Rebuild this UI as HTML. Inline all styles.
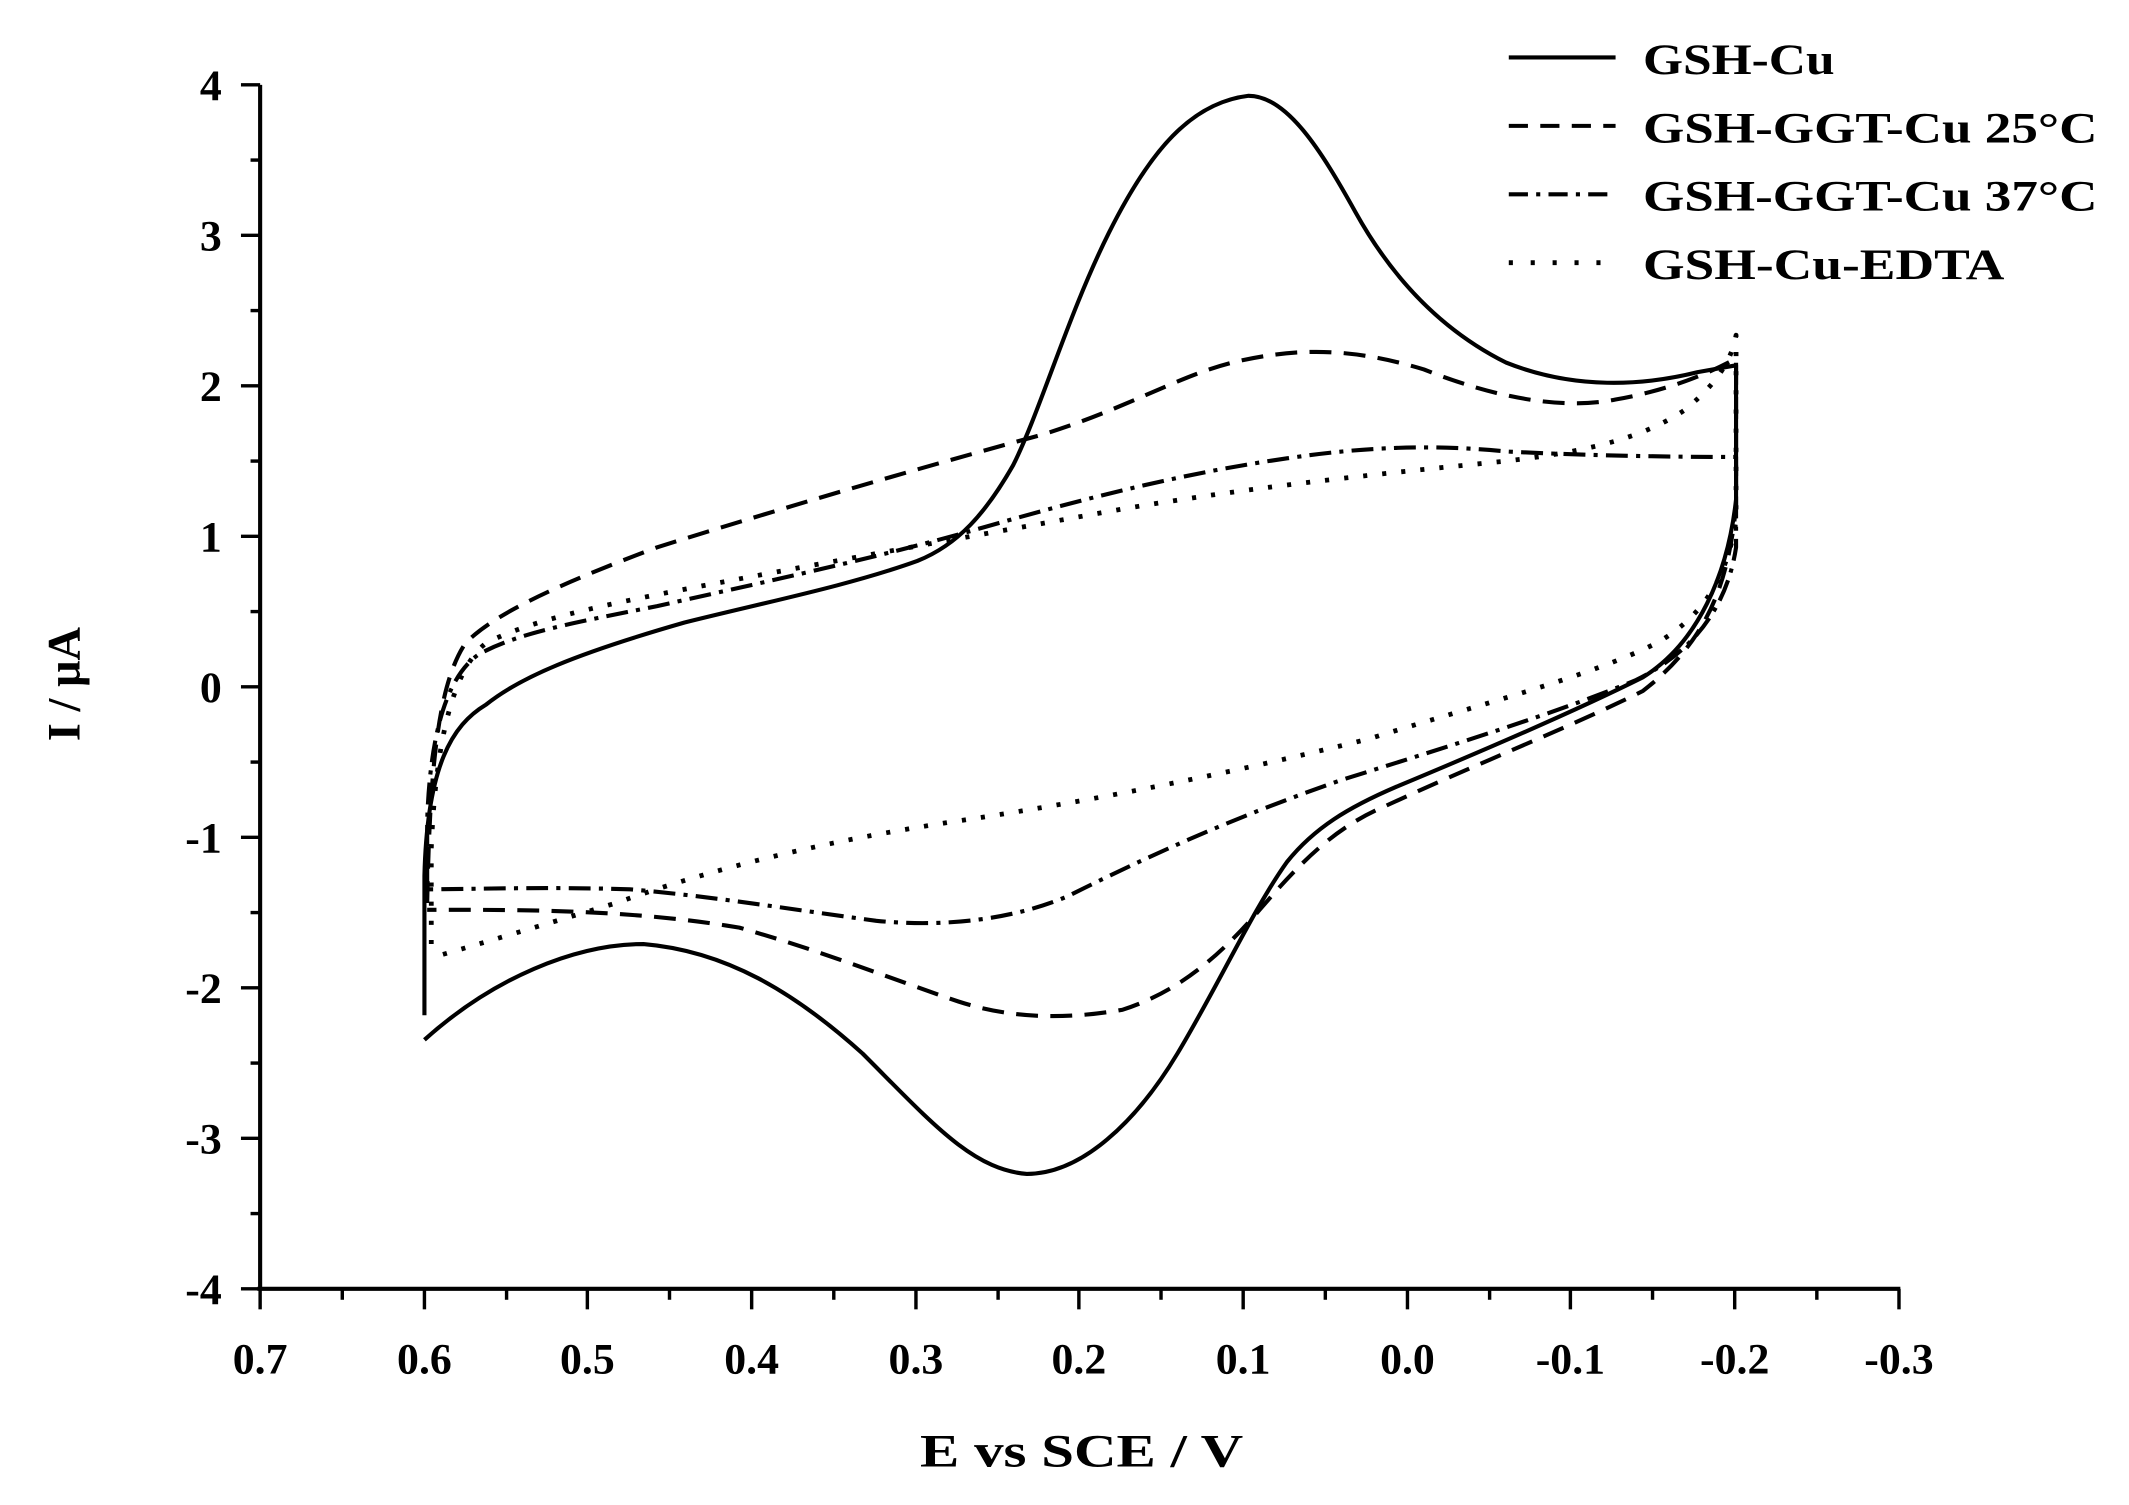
<!DOCTYPE html>
<html><head><meta charset="utf-8"><style>html,body{margin:0;padding:0;background:#fff;}svg{display:block}</style></head>
<body>
<svg width="2129" height="1505" viewBox="0 0 1555 1100" preserveAspectRatio="none" xmlns="http://www.w3.org/2000/svg" font-family="'Liberation Serif', serif" font-weight="bold">
<g stroke="#000" stroke-width="3" fill="none">
<line x1="190" y1="62" x2="190" y2="943"/>
<line x1="188" y1="942" x2="1388" y2="942"/>
<g stroke-width="2.5">
<line x1="176" y1="62" x2="190" y2="62"/><line x1="176" y1="172" x2="190" y2="172"/><line x1="176" y1="282" x2="190" y2="282"/><line x1="176" y1="392" x2="190" y2="392"/><line x1="176" y1="502" x2="190" y2="502"/><line x1="176" y1="612" x2="190" y2="612"/><line x1="176" y1="722" x2="190" y2="722"/><line x1="176" y1="832" x2="190" y2="832"/><line x1="176" y1="942" x2="190" y2="942"/>
<line x1="183" y1="117" x2="190" y2="117"/><line x1="183" y1="227" x2="190" y2="227"/><line x1="183" y1="337" x2="190" y2="337"/><line x1="183" y1="447" x2="190" y2="447"/><line x1="183" y1="557" x2="190" y2="557"/><line x1="183" y1="667" x2="190" y2="667"/><line x1="183" y1="777" x2="190" y2="777"/><line x1="183" y1="887" x2="190" y2="887"/>
<line x1="190" y1="942" x2="190" y2="957"/><line x1="310" y1="942" x2="310" y2="957"/><line x1="429" y1="942" x2="429" y2="957"/><line x1="549" y1="942" x2="549" y2="957"/><line x1="669" y1="942" x2="669" y2="957"/><line x1="788" y1="942" x2="788" y2="957"/><line x1="908" y1="942" x2="908" y2="957"/><line x1="1028" y1="942" x2="1028" y2="957"/><line x1="1147" y1="942" x2="1147" y2="957"/><line x1="1267" y1="942" x2="1267" y2="957"/><line x1="1387" y1="942" x2="1387" y2="957"/>
<line x1="250" y1="942" x2="250" y2="950"/><line x1="370" y1="942" x2="370" y2="950"/><line x1="489" y1="942" x2="489" y2="950"/><line x1="609" y1="942" x2="609" y2="950"/><line x1="729" y1="942" x2="729" y2="950"/><line x1="848" y1="942" x2="848" y2="950"/><line x1="968" y1="942" x2="968" y2="950"/><line x1="1088" y1="942" x2="1088" y2="950"/><line x1="1207" y1="942" x2="1207" y2="950"/><line x1="1327" y1="942" x2="1327" y2="950"/>
</g>
</g>
<g font-size="32" text-anchor="end">
<text x="162" y="73">4</text><text x="162" y="183">3</text><text x="162" y="293">2</text><text x="162" y="403">1</text><text x="162" y="513">0</text><text x="162" y="623">-1</text><text x="162" y="733">-2</text><text x="162" y="843">-3</text><text x="162" y="953">-4</text>
</g>
<g font-size="32" text-anchor="middle">
<text x="190" y="1004">0.7</text><text x="310" y="1004">0.6</text><text x="429" y="1004">0.5</text><text x="549" y="1004">0.4</text><text x="669" y="1004">0.3</text><text x="788" y="1004">0.2</text><text x="908" y="1004">0.1</text><text x="1028" y="1004">0.0</text><text x="1147" y="1004">-0.1</text><text x="1267" y="1004">-0.2</text><text x="1387" y="1004">-0.3</text>
</g>
<text x="672" y="1072" font-size="34" textLength="236" lengthAdjust="spacingAndGlyphs">E vs SCE / V</text>
<text transform="translate(58,500) rotate(-90)" font-size="34" text-anchor="middle">I / μA</text>
<g stroke="#000" stroke-width="3">
<line x1="1102" y1="42" x2="1180" y2="42"/>
<line x1="1102" y1="92" x2="1180" y2="92" stroke-dasharray="14,9"/>
<line x1="1102" y1="142" x2="1180" y2="142" stroke-dasharray="14,6,3,6"/>
<line x1="1102" y1="192" x2="1180" y2="192" stroke-dasharray="3,13" stroke-width="3.5"/>
</g>
<g font-size="32">
<text x="1200" y="54" textLength="140" lengthAdjust="spacingAndGlyphs">GSH-Cu</text>
<text x="1200" y="104" textLength="332" lengthAdjust="spacingAndGlyphs">GSH-GGT-Cu 25°C</text>
<text x="1200" y="154" textLength="332" lengthAdjust="spacingAndGlyphs">GSH-GGT-Cu 37°C</text>
<text x="1200" y="204" textLength="264" lengthAdjust="spacingAndGlyphs">GSH-Cu-EDTA</text>
</g>
<g fill="none" stroke="#000" stroke-width="3" stroke-linejoin="round">
<path d="M310,742 L310,640 C312,560 330,530 355,515 C380,495 420,478 500,455 C560,440 620,428 670,410 C700,398 720,375 740,340 C760,300 780,230 810,170 C840,110 870,75 912,70 C940,70 965,110 990,155 C1015,200 1050,240 1100,265 C1150,285 1200,282 1240,272 L1268,267 L1268,365 C1262,420 1240,470 1200,495 C1150,520 1080,550 1020,575 C985,590 960,605 940,630 C915,665 890,720 860,770 C830,820 790,858 750,858 C710,855 680,820 630,770 C580,725 530,695 470,690 C420,690 360,715 310,760"/>
<path stroke-dasharray="16,9" d="M312,660 C314,560 320,500 340,470 C360,450 400,430 480,400 C560,375 650,348 760,318 C820,300 860,275 900,265 C950,253 990,255 1040,270 C1090,290 1140,300 1180,292 C1220,285 1250,272 1268,262 L1268,370 C1262,430 1245,470 1200,505 C1150,530 1070,562 1010,590 C975,605 950,630 920,665 C890,700 860,725 820,738 C780,745 740,745 700,732 C650,715 600,695 540,678 C480,668 420,665 340,665 L312,665"/>
<path stroke-dasharray="16,6,3,6" d="M312,650 L312,600 C314,540 325,495 350,478 C380,462 420,455 480,443 C560,425 640,408 720,385 C800,362 870,345 940,335 C1000,326 1050,325 1100,330 C1160,333 1220,334 1268,334 L1268,400 C1262,440 1240,475 1195,497 C1140,520 1060,545 980,570 C900,598 840,625 780,655 C740,672 690,678 640,673 C580,665 520,655 460,650 C400,648 340,650 312,650"/>
<path stroke-dasharray="3,11" stroke-width="3.5" d="M315,690 L315,620 C318,545 330,490 355,470 C390,452 450,440 530,425 C620,408 720,390 820,372 C920,355 1020,345 1100,337 C1160,330 1200,320 1230,300 C1255,280 1265,262 1268,245 L1268,380 C1262,420 1245,450 1210,470 C1160,495 1080,515 1000,540 C900,565 800,585 700,600 C600,615 520,635 450,660 C400,675 350,690 315,700"/>
</g>
</svg>
</body></html>
